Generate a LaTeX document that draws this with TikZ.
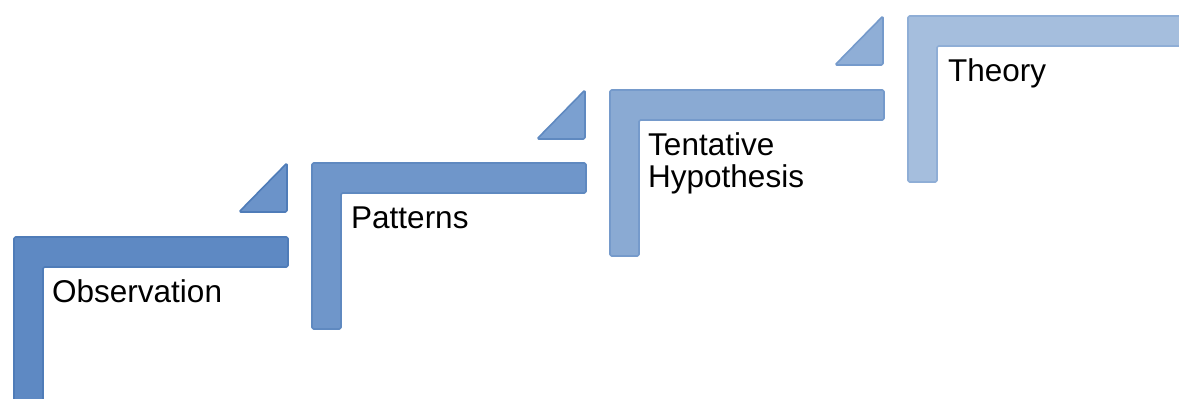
\documentclass[tikz,border=0pt]{standalone}
\usepackage{fontspec}
\setmainfont{Liberation Sans}
\definecolor{fillA}{HTML}{5E89C3}
\definecolor{fillB}{HTML}{6F96CA}
\definecolor{fillC}{HTML}{8AAAD3}
\definecolor{fillD}{HTML}{A5BEDD}
\definecolor{triA}{HTML}{6B93C9}
\definecolor{triB}{HTML}{7BA0D0}
\definecolor{triC}{HTML}{8FAED6}
\definecolor{lineA}{HTML}{4F7CB8}
\definecolor{lineB}{HTML}{5F89C0}
\definecolor{lineC}{HTML}{759ACB}
\definecolor{lineD}{HTML}{8FAED6}
\tikzset{
  stepshape/.style={line width=1.6pt, rounded corners=1.5pt, line join=round},
  label/.style={font=\fontsize{31.5}{32}\selectfont, text=black, inner sep=0pt, align=left}
}
\begin{document}
\begin{tikzpicture}[x=1pt,y=-1pt]
\useasboundingbox (0,0) rectangle (1179,399);
\clip (0,0) rectangle (1179,399);
% L shapes
\foreach \L/\T/\f/\d in {14/237/fillA/lineA, 312/163/fillB/lineB, 610/90/fillC/lineC, 908/16/fillD/lineD}{
  \filldraw[stepshape, fill=\f, draw=\d]
    (\L,\T) -- (\L+274,\T) -- (\L+274,\T+30) -- (\L+29,\T+30)
    -- (\L+29,\T+166) -- (\L,\T+166) -- cycle;
}
% triangles
\foreach \R/\T/\f/\d in {287/163/triA/lineA, 585/90/triB/lineB, 883/16/triC/lineC}{
  \filldraw[stepshape, fill=\f, draw=\d]
    (\R-48,\T+49) -- (\R,\T+49) -- (\R,\T) -- cycle;
}
\node[label, anchor=base west] (obs) at (52,302) {Observation};
\node[label, anchor=base west] (pat) at (351,228) {Patterns};
\node[label, anchor=base west] (hyp) at (648,187) {Tentative\\Hypothesis};
\node[label, anchor=base west] (the) at (948,81) {Theory};
\end{tikzpicture}
\end{document}
